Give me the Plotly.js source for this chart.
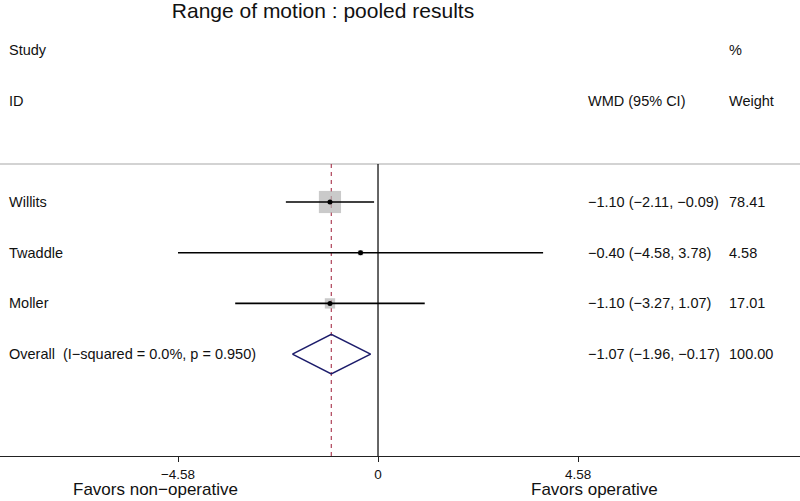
<!DOCTYPE html>
<html>
<head>
<meta charset="utf-8">
<script src="https://cdn.plot.ly/plotly-3.0.1.min.js"></script>
<style>html,body{margin:0;padding:0;background:#fff;}#chart{width:800px;height:501px;}</style>
</head>
<body>
<div id="chart"></div>
<script>
// ---- data ----
var studies = ['Willits', 'Twaddle', 'Moller'];
var wmd = [-1.10, -0.40, -1.10];
var ciLow = [-2.11, -4.58, -3.27];
var ciHigh = [-0.09, 3.78, 1.07];
var weights = [78.41, 4.58, 17.01];
var overallLabel = 'Overall\u00a0 (I\u2212squared = 0.0%, p = 0.950)';
var overallEst = -1.07;
var overallLow = -1.96;
var overallHigh = -0.17;
var overallWeight = 100.00;
var tickVals = [-4.58, 0, 4.58];
var tickLabels = ['\u22124.58', '0', '4.58'];
var titleText = 'Range of motion : pooled results';
var leftNote = 'Favors non\u2212operative';
var rightNote = 'Favors operative';

// ---- layout helpers ----
var FONT = '"Liberation Sans", Arial, Helvetica, sans-serif';
var rows = studies.map(function (s, i) { return i + 1; });
var overallRow = studies.length + 1;
function fmt(v) { return v.toFixed(2).replace('-', '\u2212'); }

var traces = [];
// weight boxes
traces.push({
  x: wmd, y: rows, mode: 'markers', type: 'scatter', hoverinfo: 'skip',
  marker: { symbol: 'square', color: '#b4b4b4', size: weights.map(function (w) { return 2.5 * Math.sqrt(w); }), line: { width: 0 } }
});
// CI lines
studies.forEach(function (s, i) {
  traces.push({
    x: [ciLow[i], ciHigh[i]], y: [rows[i], rows[i]], mode: 'lines', type: 'scatter', hoverinfo: 'skip',
    line: { color: '#000', width: 1.6 }
  });
});
// point estimates
traces.push({
  x: wmd, y: rows, mode: 'markers', type: 'scatter', hoverinfo: 'skip',
  marker: { symbol: 'circle', color: '#000', size: 5 }
});
// overall diamond
var dh = 0.39;
traces.push({
  x: [overallLow, overallEst, overallHigh, overallEst, overallLow],
  y: [overallRow, overallRow - dh, overallRow, overallRow + dh, overallRow],
  mode: 'lines', type: 'scatter', hoverinfo: 'skip',
  line: { color: '#1c1c6b', width: 1.6 }
});

var annotations = [];
function addText(text, xpx, y, yref, size) {
  annotations.push({
    text: text, xref: 'paper', x: xpx / 800, xanchor: 'left', yref: yref || 'y', y: y, yanchor: 'middle',
    showarrow: false, font: { family: FONT, size: size || 14.5, color: '#111' }
  });
}
addText('Study', 7, -2);
addText('ID', 7, -1);
addText('%', 727, -2);
addText('WMD (95% CI)', 586, -1);
addText('Weight', 727, -1);
studies.forEach(function (s, i) {
  addText(s, 7, rows[i]);
  addText(fmt(wmd[i]) + ' (' + fmt(ciLow[i]) + ', ' + fmt(ciHigh[i]) + ')', 586, rows[i]);
  addText(weights[i].toFixed(2), 727, rows[i]);
});
addText(overallLabel, 7, overallRow);
addText(fmt(overallEst) + ' (' + fmt(overallLow) + ', ' + fmt(overallHigh) + ')', 586, overallRow);
addText(overallWeight.toFixed(2), 727, overallRow);

annotations.push({ text: leftNote, xref: 'x', x: -5.1, xanchor: 'center', yref: 'paper', y: 0, yshift: -33.5, yanchor: 'middle', showarrow: false, font: { family: FONT, size: 17, color: '#111' } });
annotations.push({ text: rightNote, xref: 'x', x: 4.95, xanchor: 'center', yref: 'paper', y: 0, yshift: -33.5, yanchor: 'middle', showarrow: false, font: { family: FONT, size: 17, color: '#111' } });

var yTop = 6.01;
var shapes = [
  { type: 'line', layer: 'below', xref: 'paper', x0: 0, x1: 1, yref: 'y', y0: 0.25, y1: 0.25, line: { color: '#c4c4c4', width: 1.5 } },
  { type: 'line', layer: 'below', xref: 'x', x0: 0, x1: 0, yref: 'y', y0: 0.25, y1: yTop, line: { color: '#000', width: 1.2 } },
  { type: 'line', layer: 'below', xref: 'x', x0: overallEst, x1: overallEst, yref: 'y', y0: 0.25, y1: yTop, line: { color: '#a8324a', width: 1.1, dash: '4px,4px' } }
];

var layout = {
  width: 800, height: 501,
  margin: { l: 0, r: 0, t: 0, b: 45, pad: 0 },
  paper_bgcolor: '#fff', plot_bgcolor: '#fff',
  showlegend: false,
  title: { text: titleText, font: { family: FONT, size: 21, color: '#111' }, x: 323 / 800, xanchor: 'center', xref: 'paper', yref: 'container', y: 1 - 11 / 501, yanchor: 'middle' },
  xaxis: {
    range: [-8.656, 9.663], showgrid: false, zeroline: false, showline: true, linecolor: '#222', linewidth: 1.3,
    ticks: 'outside', ticklen: 5, tickcolor: '#222', tickwidth: 1, ticklabelstandoff: 0,
    tickvals: tickVals, ticktext: tickLabels, tickfont: { family: FONT, size: 13.5, color: '#111' }, fixedrange: true
  },
  yaxis: { range: [yTop, -2.984], visible: false, fixedrange: true },
  shapes: shapes,
  annotations: annotations
};

Plotly.newPlot('chart', traces, layout, { staticPlot: true, displayModeBar: false });
</script>
</body>
</html>
